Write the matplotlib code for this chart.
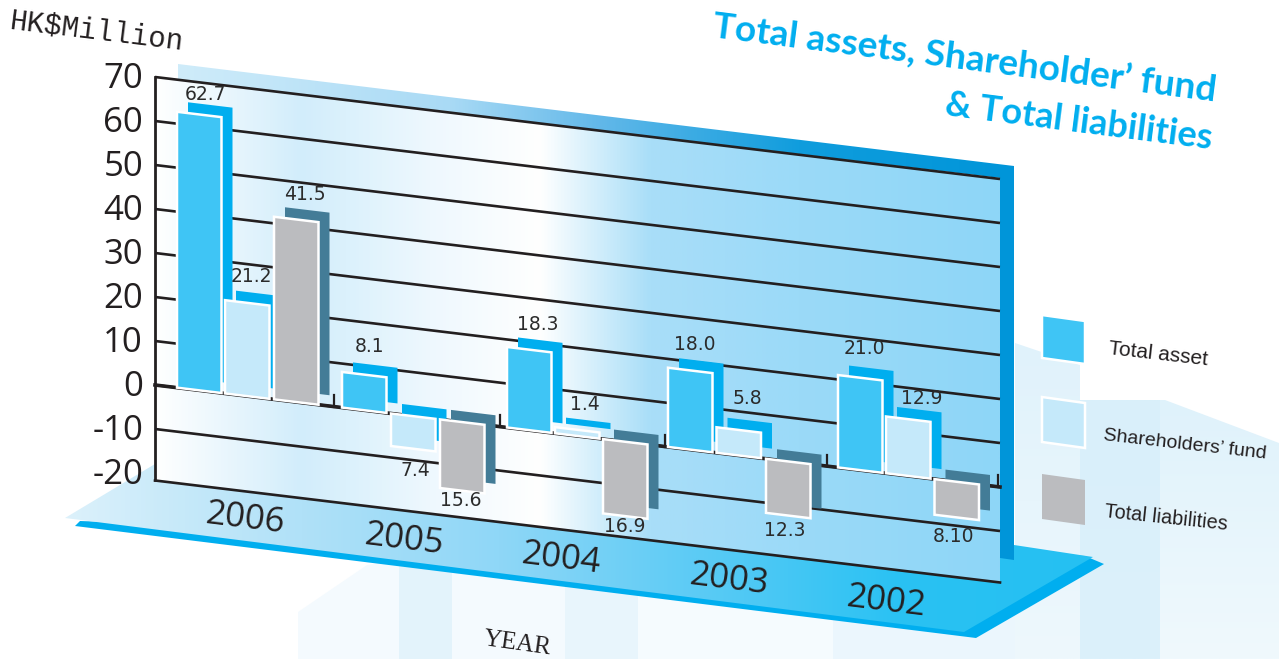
import matplotlib
matplotlib.use("Agg")
import matplotlib.pyplot as plt
import numpy as np
from matplotlib.patches import Polygon
from matplotlib.transforms import Affine2D
from matplotlib.colors import LinearSegmentedColormap as LSC

# ---- data ----
years = ["2006", "2005", "2004", "2003", "2002"]
series_names = ["Total asset", "Shareholders\u2019 fund", "Total liabilities"]
total_asset = [62.7, 8.1, 18.3, 18.0, 21.0]
shareholders_fund = [21.2, -7.4, 1.4, 5.8, 12.9]
total_liabilities = [41.5, -15.6, -16.9, -12.3, -8.1]
asset_labels = ["62.7", "8.1", "18.3", "18.0", "21.0"]
fund_labels = ["21.2", "7.4", "1.4", "5.8", "12.9"]
liab_labels = ["41.5", "15.6", "16.9", "12.3", "8.10"]
y_ticks = [70, 60, 50, 40, 30, 20, 10, 0, -10, -20]

# ---- layout (pixels) ----
W, H = 1279, 659
X0, X1 = 155, 1000
ZERO_Y = 385
SLOPE = (487 - 385) / 845
PX_PER_UNIT = 4.4
FLOOR_V = -21.7
BAR_W = 44.5
BACK_DX, BACK_DY = 11, -9.5
bar_left = [[177, 342, 507, 668, 838],
            [225, 391, 555, 716.5, 886],
            [274, 440, 603, 766, 934.5]]
asset_label_xy = [(206, 94), (370, 347), (538, 324), (695, 344), (864, 349)]
fund_label_xy = [(251, 277), (415, 470), (585, 404), (747, 399), (922, 398)]
liab_label_xy = [(305, 195), (461, 501), (625, 527), (785, 531), (954, 537)]
year_xy = [(245, 519), (404, 540), (561, 559), (729, 580), (886, 602)]
sep_ticks = [334, 500, 665, 827, 998]

INK = "#231f20"
FRONT = ["#3fc5f5", "#c5e9fa", "#bbbcbf"]
BACK = ["#00aeef", "#00aeef", "#437c97"]

fig = plt.figure(figsize=(W / 100, H / 100), dpi=100)
ax = fig.add_axes([0, 0, 1, 1])
ax.set_axis_off()

# (u, value) -> pixels on the slanted wall
wall = Affine2D.from_values(1, SLOPE, 0, -PX_PER_UNIT, 0, ZERO_Y - SLOPE * X0)
T = wall + ax.transData


def gradient(poly, stops, extent_x, zorder):
    pts = np.array(poly)
    y0, y1 = pts[:, 1].min(), pts[:, 1].max()
    cm = LSC.from_list("g", [((x - extent_x[0]) / (extent_x[1] - extent_x[0]), c) for x, c in stops])
    im = ax.imshow(np.linspace(0, 1, 512)[None, :], cmap=cm, aspect="auto",
                   extent=(extent_x[0], extent_x[1], y1, y0), zorder=zorder, interpolation="bilinear")
    clip = Polygon(poly, closed=True, transform=ax.transData, fc="none", ec="none")
    ax.add_patch(clip)
    im.set_clip_path(clip)


def vgradient(poly, c_top, c_bottom, zorder):
    pts = np.array(poly)
    x0, x1 = pts[:, 0].min(), pts[:, 0].max()
    y0, y1 = pts[:, 1].min(), pts[:, 1].max()
    cm = LSC.from_list("g", [c_top, c_bottom])
    im = ax.imshow(np.linspace(0, 1, 256)[:, None], cmap=cm, aspect="auto", origin="upper",
                   extent=(x0, x1, y1, y0), zorder=zorder, interpolation="bilinear")
    clip = Polygon(poly, closed=True, transform=ax.transData, fc="none", ec="none")
    ax.add_patch(clip)
    im.set_clip_path(clip)


# ghost buildings
ghost = [
    ([(298, 612), (367, 565), (399, 560), (399, 659), (298, 659)], "#f4fafe"),
    ([(399, 555), (452, 555), (452, 659), (399, 659)], "#e3f3fb"),
    ([(452, 555), (565, 565), (565, 659), (452, 659)], "#f4fafe"),
    ([(565, 565), (638, 575), (638, 659), (565, 659)], "#e8f5fc"),
    ([(638, 575), (833, 600), (833, 659), (638, 659)], "#f5fbfe"),
    ([(833, 600), (1015, 600), (1015, 659), (833, 659)], "#ebf6fd"),
]
for poly, c in ghost:
    ax.add_patch(Polygon(poly, closed=True, fc=c, ec="none", zorder=1))
vgradient([(1015, 343), (1080, 365), (1080, 659), (1015, 659)], "#e0f2fb", "#eef8fd", 1)
vgradient([(1080, 400), (1160, 400), (1160, 659), (1080, 659)], "#d9effa", "#dcf1fb", 1)
vgradient([(1160, 400), (1165, 400), (1279, 443), (1279, 659), (1160, 659)], "#dff2fb", "#f0f9fd", 1)

# floor
ax.add_patch(Polygon([(75, 526), (80, 521), (1085, 556), (1104, 564), (976, 638)],
                     closed=True, fc="#00aeef", ec="none", zorder=2))
gradient([(65, 518), (155, 464), (1014, 545), (1093, 557), (964, 632)],
         [(65, "#dcf1fb"), (300, "#b0e1f8"), (500, "#8fd7f7"), (700, "#5bcbf5"), (900, "#2ac2f3"), (1093, "#25c0f2")],
         (65, 1093), 3)

# back band of the wall
gradient([(178, 64), (1014, 166), (1014, 560), (1000, 558), (1000, 178), (178, 82)],
         [(178, "#cfecfa"), (450, "#a9daf5"), (600, "#62b8e9"), (800, "#109ddd"), (1014, "#0095d9")],
         (178, 1014), 4)

# wall
gradient([(X0, 77), (X1, 178), (X1, 582), (X0, 481)],
         [(155, "#ffffff"), (300, "#d2edfb"), (345, "#dbf1fc"), (430, "#eef8fe"), (540, "#ffffff"),
          (600, "#d0edfb"), (650, "#a9def8"), (800, "#9bdaf8"), (1000, "#8ed6f7")],
         (X0, X1), 5)

# grid
for v in y_ticks[:-1]:
    ax.plot([X0, X1], [v, v], transform=T, color=INK, lw=1.9, zorder=6, solid_capstyle="butt")
ax.plot([X0, X1], [FLOOR_V, FLOOR_V], transform=T, color=INK, lw=1.9, zorder=6)
ax.plot([X0, X0], [70, FLOOR_V], transform=T, color=INK, lw=2, zorder=6)
ax.plot([X0, X1], [0, 0], transform=T, color=INK, lw=2.6, zorder=6)
for x in sep_ticks:
    ax.plot([x, x], [0, 2.6], transform=T, color=INK, lw=1.6, zorder=6)

# bars
offset = Affine2D().translate(BACK_DX, BACK_DY) + ax.transData
T_back = wall + offset
columns = [total_asset, shareholders_fund, total_liabilities]
z = 7
for g in range(len(years)):
    for s, values in enumerate(columns):
        x = bar_left[s][g]
        v = values[g]
        corners = [(x, 0), (x, v), (x + BAR_W, v), (x + BAR_W, 0)]
        ax.add_patch(Polygon(corners, closed=True, transform=T_back, fc=BACK[s], ec="none", zorder=z))
        ax.add_patch(Polygon(corners, closed=True, transform=T, fc=FRONT[s], ec="white", lw=1.8,
                             joinstyle="miter", zorder=z + 0.5))
        z += 1

# value labels
for xy_list, labels in [(asset_label_xy, asset_labels), (fund_label_xy, fund_labels), (liab_label_xy, liab_labels)]:
    for (x, y), t in zip(xy_list, labels):
        ax.text(x, y, t, ha="center", va="center", fontsize=13.5, family="DejaVu Sans", color="#2b2b2b", zorder=40)

# y tick labels
for v in y_ticks:
    ax.text(143, ZERO_Y - PX_PER_UNIT * v + 1.5, str(v), ha="right", va="center", fontsize=25,
            family="Open Sans", color=INK, zorder=40)

# year labels
for (x, y), t in zip(year_xy, years):
    ax.text(x, y, t, ha="center", va="center", rotation=-7, rotation_mode="anchor", fontsize=25,
            family="Open Sans", color=INK, zorder=40)

# axis names
ax.text(97, 31, "HK$Million", ha="center", va="center", rotation=-7, rotation_mode="anchor", fontsize=21,
        family="Liberation Mono", color=INK, zorder=40)
ax.text(517, 644, "YEAR", ha="center", va="center", rotation=-8, rotation_mode="anchor", fontsize=18,
        family="Liberation Serif", color=INK, zorder=40)

# title
TC = "#00aeef"
ax.text(965, 58, "Total assets, Shareholder\u2019 fund", ha="center", va="center", rotation=-7.3,
        rotation_mode="anchor", fontsize=26.7, fontweight="bold", family="Lato", color=TC, zorder=40)
ax.text(1079, 122, "& Total liabilities", ha="center", va="center", rotation=-7.3,
        rotation_mode="anchor", fontsize=26, fontweight="bold", family="Lato", color=TC, zorder=40)

# legend
swatches = [(1042, 315, 43), (1042, 397, 45), (1042, 474, 45)]
edge = ["white", "white", "none"]
for (x, y, h), f, e in zip(swatches, FRONT, edge):
    ax.add_patch(Polygon([(x, y), (x + 43, y + 6), (x + 43, y + 6 + h), (x, y + h)], closed=True, fc=f, ec=e,
                         lw=1.8, zorder=30))
for (x, y), t, r, fs in zip([(1158, 354), (1185, 445), (1166, 518)], series_names,
                            [-6.5, -6.5, -6.0], [15, 14, 14.3]):
    ax.text(x, y, t, ha="center", va="center", rotation=r, rotation_mode="anchor", fontsize=fs,
            family="Liberation Sans", color=INK, zorder=40)

ax.set_xlim(0, W)
ax.set_ylim(H, 0)
fig.savefig("out.png", dpi=100)
